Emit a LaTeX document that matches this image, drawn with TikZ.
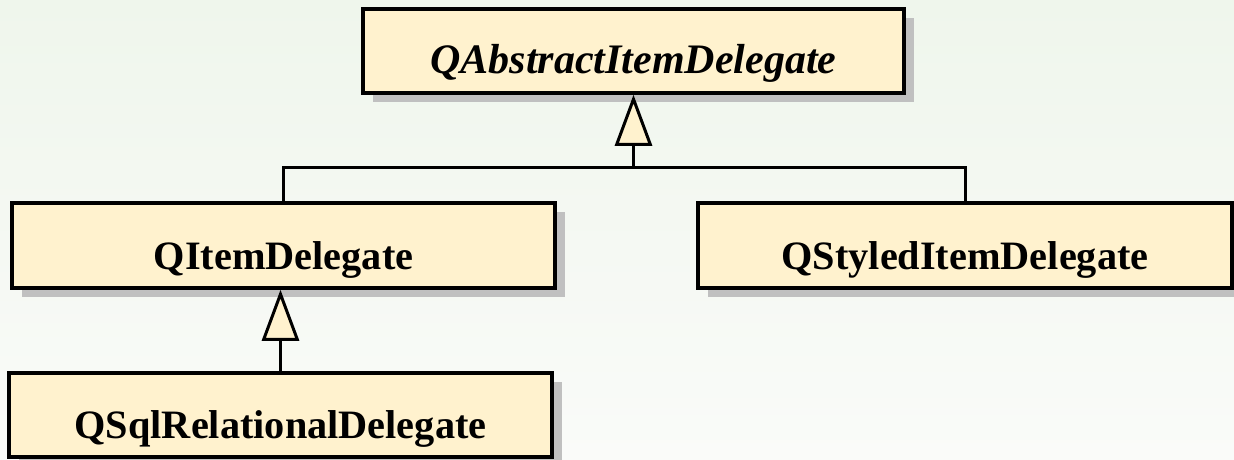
\documentclass[tikz,border=0pt]{standalone}
\usepackage{fontspec}
\setmainfont{Liberation Serif}
\usetikzlibrary{arrows.meta,shadows}
\definecolor{boxfill}{RGB}{255,242,206}
\definecolor{shadowgray}{RGB}{192,192,192}
\definecolor{bgtop}{RGB}{239,246,236}
\definecolor{bgbottom}{RGB}{250,251,249}
\tikzset{
  classbox/.style={draw=black, line width=3.5pt, fill=boxfill,
    rectangle, inner xsep=0pt, inner ysep=0pt,
    text depth=19pt, text height=#1-19pt, minimum height=#1,
    font=\fontsize{40.3}{42}\selectfont\bfseries,
    drop shadow={shadow xshift=10pt, shadow yshift=-9pt,
      fill=shadowgray, opacity=1}},
  link/.style={draw=black, line width=3pt},
  inherits/.style={link, -{Triangle[open, width=37pt, length=51pt, fill=boxfill, line join=miter]}}
}
\begin{document}
\begin{tikzpicture}[x=1pt, y=-1pt]
  % page area with its soft vertical gradient
  \useasboundingbox (0,0) rectangle (1234,460);
  \shade[top color=bgtop, bottom color=bgbottom] (0,0) rectangle (1234,460);

  % classes
  \node[classbox=84pt, minimum width=541pt, font=\fontsize{42}{44}\selectfont\bfseries\itshape]
    (abstract) at (633.5,51) {QAbstractItemDelegate};
  \node[classbox=85pt, minimum width=543pt] (item) at (283.5,245.5) {QItemDelegate};
  \node[classbox=85pt, minimum width=534pt] (styled) at (965,245.5) {QStyledItemDelegate};
  \node[classbox=84pt, minimum width=543pt] (sql) at (280.5,415) {QSqlRelationalDelegate};

  % generalisation: both delegates derive from the abstract base
  \coordinate (bus) at (633.5,167);
  \draw[link] (item.north) |- (bus) -| (styled.north);
  \draw[inherits] (bus) -- (abstract.south);

  % generalisation: the SQL delegate derives from QItemDelegate
  \draw[inherits] (sql.north) -- (sql.north |- item.south);
\end{tikzpicture}
\end{document}
